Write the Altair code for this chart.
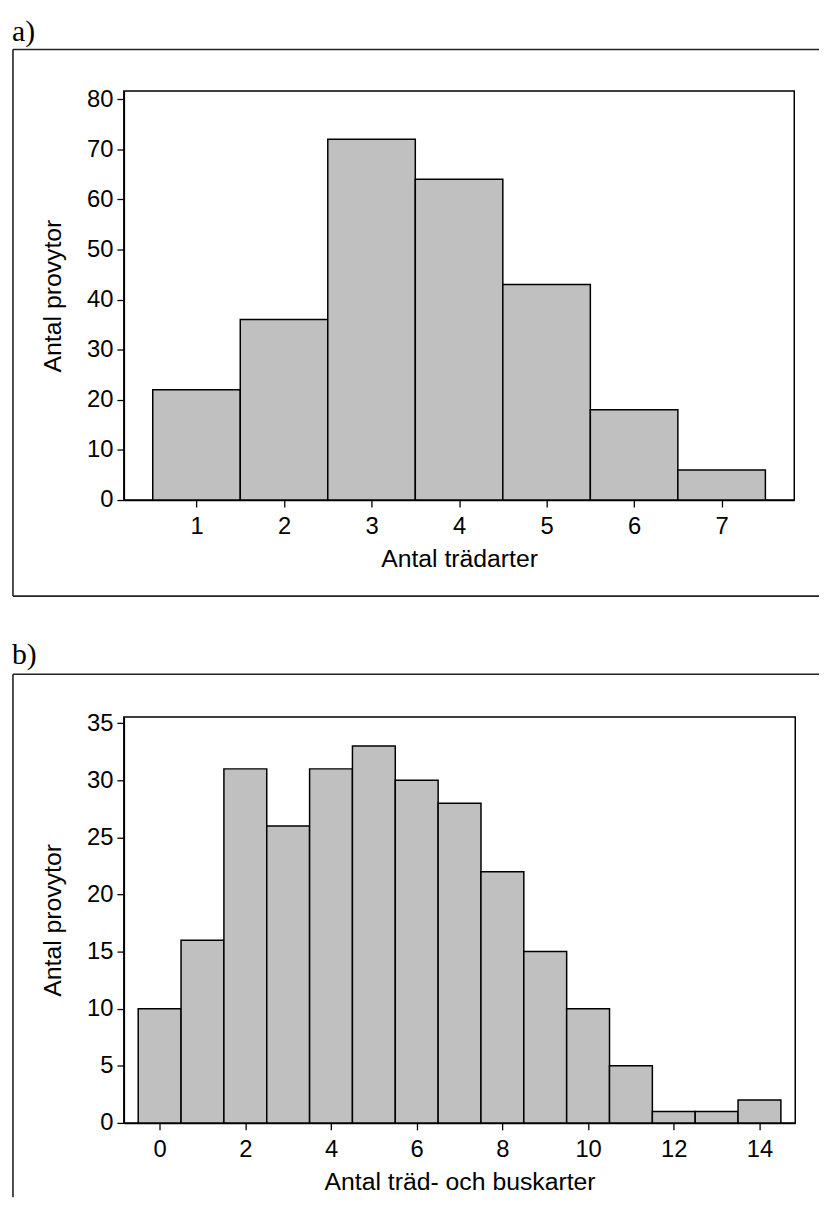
import altair as alt
import pandas as pd

# ---- data ----
a_species = [1, 2, 3, 4, 5, 6, 7]
a_counts = [22, 36, 72, 64, 43, 18, 6]

b_species = [0, 1, 2, 3, 4, 5, 6, 7, 8, 9, 10, 11, 12, 13, 14]
b_counts = [10, 16, 31, 26, 31, 33, 30, 28, 22, 15, 10, 5, 1, 1, 2]

a_xticks = [1, 2, 3, 4, 5, 6, 7]
a_yticks = [0, 10, 20, 30, 40, 50, 60, 70, 80]
b_xticks = [0, 2, 4, 6, 8, 10, 12, 14]
b_yticks = [0, 5, 10, 15, 20, 25, 30, 35]

a_xtitle = "Antal trädarter"
b_xtitle = "Antal träd- och buskarter"
ytitle = "Antal provytor"

SANS = "Liberation Sans"
SERIF = "Liberation Serif"


def panel(species, counts, xdom, ydom, xticks, yticks, xtitle, label,
          w, h, top, label_y, frame_bottom, bottom_line):
    df = pd.DataFrame({"k": species, "n": counts})
    bars = alt.Chart(df).transform_calculate(
        x0="datum.k - 0.5", x1="datum.k + 0.5", z="0"
    ).mark_rect(fill="#c0c0c0", stroke="black", strokeWidth=1.5).encode(
        x=alt.X("x0:Q",
                scale=alt.Scale(domain=xdom, nice=False, zero=False),
                axis=alt.Axis(values=xticks, title=xtitle, format="d")),
        x2="x1:Q",
        y=alt.Y("n:Q",
                scale=alt.Scale(domain=ydom, nice=False, zero=True),
                axis=alt.Axis(values=yticks, title=ytitle, format="d")),
        y2="z:Q",
    )
    one = pd.DataFrame({"o": [0]})
    deco = alt.Chart(one)
    left = -112
    right = 826 - 124
    top_rule = deco.mark_rule(color="#222", strokeWidth=1.6).encode(
        x=alt.value(left), x2=alt.value(right), y=alt.value(top))
    left_rule = deco.mark_rule(color="#222", strokeWidth=1.6).encode(
        x=alt.value(left), y=alt.value(top), y2=alt.value(frame_bottom))
    layers = [bars, top_rule, left_rule]
    if bottom_line:
        bot_rule = deco.mark_rule(color="#222", strokeWidth=1.6).encode(
            x=alt.value(left), x2=alt.value(right), y=alt.value(frame_bottom))
        layers.append(bot_rule)
    txt = deco.mark_text(text=label, font=SERIF, fontSize=30, align="left",
                         baseline="alphabetic", color="black").encode(
        x=alt.value(left - 1), y=alt.value(label_y))
    layers.append(txt)
    return alt.layer(*layers).properties(width=w, height=h)


pa = panel(a_species, a_counts, [0.17, 7.83], [0, 81.6], a_xticks, a_yticks,
           a_xtitle, "a)", 677, 413, -42, -51, 510, True)
pb = panel(b_species, b_counts, [-0.835, 14.835], [0, 35.55], b_xticks, b_yticks,
           b_xtitle, "b)", 678, 410, -43, -53, 485, False)

chart = alt.vconcat(pa, pb, spacing=42).properties(
    padding={"left": 3, "top": 2, "right": 0, "bottom": 0}
).configure_view(
    stroke="black", strokeWidth=1.5
).configure_axis(
    grid=False,
    domainColor="black", domainWidth=1.5,
    tickColor="black", tickWidth=1.3, tickSize=7,
    labelFont=SANS, labelFontSize=24, labelColor="black",
    titleFont=SANS, titleFontSize=25, titleColor="black", titleFontWeight="normal",
    labelFlush=False, labelOverlap=False,
).configure_axisX(
    titlePadding=8, labelPadding=8
).configure_axisY(
    titlePadding=21, labelPadding=4
)

chart.save("out.html", embed_options={"renderer": "svg", "actions": False})
